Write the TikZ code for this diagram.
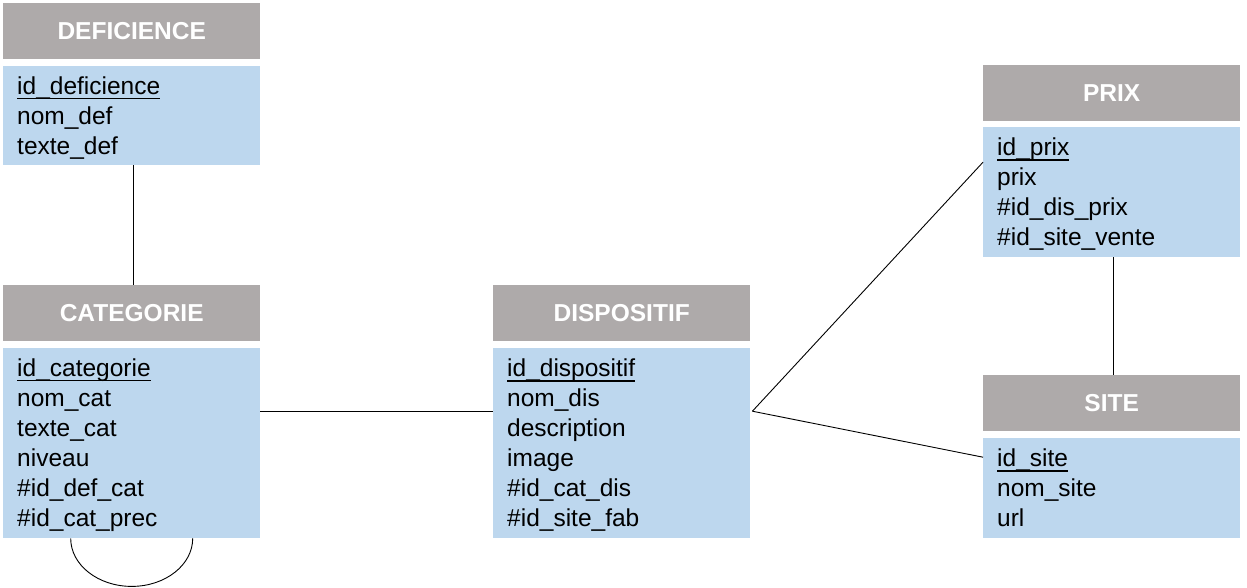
\documentclass[tikz,border=0pt]{standalone}
\usepackage{fontspec}
\setmainfont{Liberation Sans}
\definecolor{hdrgray}{HTML}{AEAAAA}
\definecolor{bodyblue}{HTML}{BDD7EE}
\newcommand{\keyul}[1]{{\rule{0pt}{22pt}\setbox0\hbox{#1}\rlap{\rule[-4.8pt]{\wd0}{1.4pt}}\box0}}
\begin{document}
\begin{tikzpicture}[x=1pt,y=-1pt,
  hdr/.style={anchor=north west,fill=hdrgray,text=white,inner sep=0pt,
    minimum width=257pt,minimum height=56pt,font=\fontsize{24.5}{28}\selectfont\bfseries},
  body/.style={anchor=north west,fill=bodyblue,inner xsep=14pt,inner ysep=0pt,
    text width=229pt,minimum width=257pt,align=left,
    font=\fontsize{24.5}{30}\selectfont},
  conn/.style={draw=black,line width=0.9pt}]
\useasboundingbox (0,0) rectangle (1247,588);
% DEFICIENCE
\node[hdr] (defh) at (3,3) {DEFICIENCE};
\node[body,minimum height=99pt] (defb) at (3,66) {\keyul{id\_deficience}\\nom\_def\\texte\_def};
% CATEGORIE
\node[hdr] (cath) at (3,285) {CATEGORIE};
\node[body,minimum height=190pt] (catb) at (3,348) {\keyul{id\_categorie}\\nom\_cat\\texte\_cat\\niveau\\\#id\_def\_cat\\\#id\_cat\_prec};
% DISPOSITIF
\node[hdr] (dish) at (493,285) {DISPOSITIF};
\node[body,minimum height=190pt] (disb) at (493,348) {\keyul{id\_dispositif}\\nom\_dis\\description\\image\\\#id\_cat\_dis\\\#id\_site\_fab};
% PRIX
\node[hdr] (prih) at (983,65) {PRIX};
\node[body,minimum height=130pt] (prib) at (983,127) {\keyul{id\_prix}\\prix\\\#id\_dis\_prix\\\#id\_site\_vente};
% SITE
\node[hdr] (sith) at (983,375) {SITE};
\node[body,minimum height=100pt] (sitb) at (983,438) {\keyul{id\_site}\\nom\_site\\url\rule[-5pt]{0pt}{0pt}};
% connectors
\coordinate (j) at ([xshift=2pt,yshift=32pt]disb.east);
\draw[conn] ([xshift=1.5pt]defb.south) -- ([xshift=1.5pt]cath.north);
\draw[conn] ([yshift=32pt]catb.east) -- ([yshift=32pt]disb.west);
\draw[conn] (j) -- ([yshift=30pt]prib.west);
\draw[conn] (j) -- ([yshift=31pt]sitb.west);
\draw[conn] ([xshift=1.5pt]prib.south) -- ([xshift=1.5pt]sith.north);
\draw[conn] ([xshift=-61pt]catb.south) arc[start angle=180,end angle=360,x radius=61pt,y radius=48pt];
\end{tikzpicture}
\end{document}
